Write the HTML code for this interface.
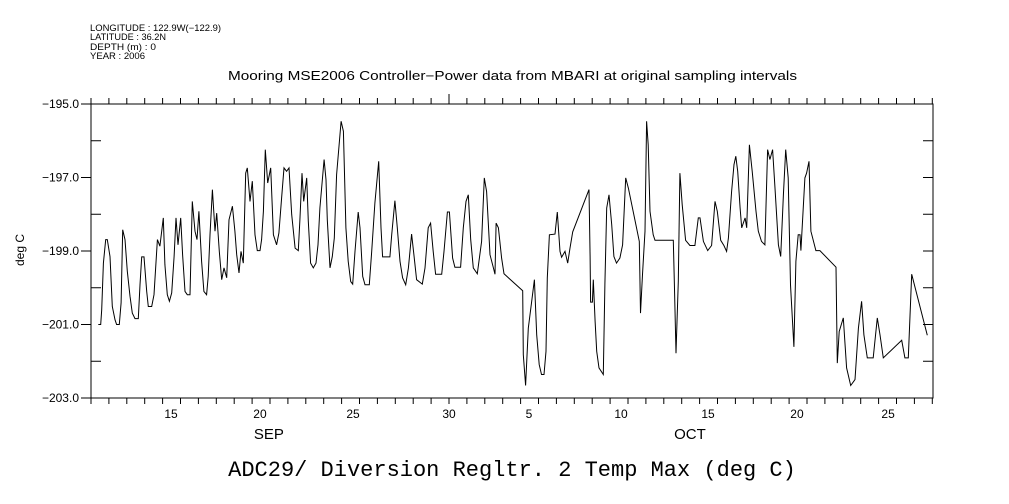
<!DOCTYPE html>
<html><head><meta charset="utf-8">
<style>
body{margin:0;background:#fff;}
svg{display:block;font-family:"Liberation Sans",sans-serif;}
</style></head>
<body>
<svg id="chart" width="1009" height="504" viewBox="0 0 1009 504" xmlns="http://www.w3.org/2000/svg">
<rect width="1009" height="504" fill="#fff"/>
<g font-size="9" fill="#000">
<text x="90" y="31" textLength="131" lengthAdjust="spacingAndGlyphs">LONGITUDE : 122.9W(−122.9)</text>
<text x="90" y="40" textLength="76" lengthAdjust="spacingAndGlyphs">LATITUDE : 36.2N</text>
<text x="90" y="50" textLength="66" lengthAdjust="spacingAndGlyphs">DEPTH (m) : 0</text>
<text x="90" y="59" textLength="55" lengthAdjust="spacingAndGlyphs">YEAR : 2006</text>
</g>
<text x="228" y="80" textLength="569" lengthAdjust="spacingAndGlyphs" font-size="12.5">Mooring MSE2006 Controller−Power data from MBARI at original sampling intervals</text>
<text transform="translate(24,250) rotate(-90)" text-anchor="middle" font-size="12">deg C</text>
<text x="512" y="476" text-anchor="middle" font-size="22" font-family="Liberation Mono, monospace">ADC29/ Diversion Regltr. 2 Temp Max (deg C)</text>
<g id="axes"></g>
<g id="plot"></g>
</svg>
<script>
const days=[0.41,0.54,0.60,0.69,0.82,0.91,1.06,1.19,1.34,1.43,1.58,1.68,1.77,1.90,2.03,2.18,2.31,2.46,2.64,2.74,2.83,2.96,3.11,3.20,3.39,3.52,3.71,3.85,4.04,4.13,4.26,4.38,4.51,4.64,4.75,4.86,5.01,5.12,5.25,5.38,5.53,5.66,5.81,5.92,6.03,6.18,6.31,6.46,6.55,6.65,6.78,6.93,7.02,7.17,7.30,7.43,7.58,7.71,7.90,8.04,8.14,8.27,8.38,8.51,8.64,8.73,8.88,9.01,9.16,9.29,9.44,9.53,9.63,9.74,9.87,10.04,10.19,10.37,10.50,10.65,10.78,10.93,11.06,11.21,11.40,11.58,11.67,11.79,11.88,12.05,12.14,12.27,12.42,12.57,12.68,12.79,13.02,13.13,13.20,13.35,13.48,13.59,13.72,13.97,14.10,14.24,14.37,14.51,14.62,14.75,14.93,15.03,15.18,15.31,15.55,15.68,15.86,16.07,16.20,16.29,16.70,16.80,16.98,17.11,17.26,17.41,17.58,17.73,17.91,18.04,18.19,18.51,18.66,18.84,18.97,19.12,19.25,19.59,19.72,19.91,20.02,20.20,20.33,20.61,
20.65,20.80,20.95,21.08,21.21,21.36,21.58,21.82,21.97,22.10,22.29,22.48,22.57,22.63,22.76,22.94,23.07,24.12,24.15,24.28,24.43,24.62,24.77,24.90,25.04,25.17,25.31,25.42,25.49,25.61,25.92,26.05,26.20,26.29,26.48,26.63,26.76,26.91,27.82,27.88,27.91,28.01,28.06,28.16,28.25,28.38,28.62,28.71,28.81,28.94,29.09,29.21,29.36,29.55,29.70,29.87,30.02,30.63,30.70,30.81,30.95,31.04,31.13,31.23,31.41,31.51,32.53,32.59,32.68,32.81,32.90,33.03,33.22,33.46,33.74,33.93,34.02,34.21,34.45,34.67,34.86,34.99,35.18,35.36,35.51,35.61,35.79,35.92,36.02,36.13,36.26,36.35,36.54,36.63,36.78,36.94,37.15,37.28,37.46,37.65,37.80,37.93,38.08,38.21,38.40,38.53,38.68,38.81,38.95,39.08,39.27,39.38,39.51,39.61,39.66,39.88,39.98,40.11,40.22,40.50,40.72,41.62,41.69,41.80,42.03,42.21,42.44,42.68,42.87,43.05,43.18,43.37,43.70,43.93,44.08,44.26,45.29,45.47,45.66,45.85,46.72];
const temps=[-201.0,-201.0,-200.6,-199.33,-198.69,-198.69,-199.15,-200.51,-200.87,-201.0,-201.0,-200.41,-198.42,-198.69,-199.55,-200.23,-200.69,-200.84,-200.84,-199.92,-199.16,-199.16,-200.10,-200.51,-200.51,-200.19,-198.69,-198.87,-198.10,-199.37,-200.19,-200.37,-200.14,-199.15,-198.10,-198.83,-198.10,-199.10,-200.10,-200.19,-200.19,-197.65,-198.46,-198.69,-197.92,-199.28,-200.10,-200.19,-199.69,-198.56,-197.33,-198.46,-197.97,-199.01,-199.78,-199.46,-199.73,-198.15,-197.78,-198.46,-199.10,-199.60,-199.01,-199.33,-196.88,-196.74,-197.65,-197.10,-198.56,-198.99,-198.99,-198.69,-197.92,-196.24,-197.15,-196.74,-198.56,-198.83,-198.51,-197.56,-196.74,-196.83,-196.74,-198.01,-198.92,-198.99,-198.15,-196.88,-197.65,-197.01,-198.19,-199.33,-199.46,-199.33,-198.83,-197.83,-196.51,-197.06,-198.15,-199.46,-199.15,-198.65,-196.92,-195.47,-195.74,-198.37,-199.28,-199.83,-199.90,-199.01,-197.94,-198.37,-199.69,-199.92,-199.92,-199.01,-197.69,-196.56,-198.37,-199.16,-199.16,-198.56,-197.63,-198.37,-199.28,-199.73,-199.92,-199.46,-198.54,-199.10,-199.78,-199.90,-199.46,-198.37,-198.24,-199.01,-199.63,-199.63,-199.01,-197.94,-197.94,-199.19,-199.44,-199.44,
-199.44,-198.37,-197.65,-197.47,-198.69,-199.46,-199.62,-198.74,-197.01,-197.38,-199.10,-199.46,-199.63,-198.24,-198.37,-199.19,-199.62,-200.08,-201.82,-202.66,-201.10,-200.37,-199.78,-201.28,-202.09,-202.36,-202.36,-201.73,-199.73,-198.56,-198.54,-197.94,-199.01,-199.17,-199.01,-199.33,-198.92,-198.48,-197.33,-199.15,-200.39,-200.39,-199.78,-200.91,-201.73,-202.18,-202.36,-199.90,-197.83,-197.47,-198.28,-199.15,-199.33,-199.19,-198.83,-197.01,-197.29,-198.74,-200.69,-199.64,-198.46,-195.47,-196.11,-197.92,-198.56,-198.71,-198.71,-199.92,-201.78,-199.83,-196.88,-197.74,-198.71,-198.85,-198.85,-198.10,-198.10,-198.74,-198.99,-198.85,-197.65,-197.92,-198.71,-198.85,-199.01,-198.65,-197.38,-196.65,-196.42,-196.83,-197.83,-198.37,-198.10,-198.37,-196.11,-196.83,-197.92,-198.46,-198.74,-198.83,-196.24,-196.51,-196.24,-197.29,-198.83,-199.15,-197.47,-196.24,-197.01,-199.92,-201.61,-199.28,-198.56,-198.56,-198.99,-197.01,-196.88,-196.56,-198.46,-198.99,-198.99,-199.44,-202.05,-201.19,-200.82,-202.18,-202.66,-202.50,-201.10,-200.37,-201.28,-201.91,-201.91,-200.82,-201.28,-201.91,-201.43,-201.91,-201.91,-199.63,-201.29];
const yTickValues=[-195,-197,-199,-201,-203];
const yTickLabels=["−195.0","−197.0","−199.0","−201.0","−203.0"];
const xTickLabels=["15","20","25","30","5","10","15","20","25"];
const xTickLabelDays=[4.47,9.44,14.64,20.0,24.47,29.61,34.47,39.44,44.53];
const monthLabels=["SEP","OCT"];
const monthLabelDays=[9.94,33.46];

const X0=91,X1=933,Y0=104,Y1=398,DAYPX=17.9;
const xs=d=>X0+d*DAYPX;
const ys=v=>Y0+(-195-v)*(Y1-Y0)/8;
const NS="http://www.w3.org/2000/svg";
const axes=document.getElementById('axes');
const plot=document.getElementById('plot');
function mk(tag,attrs,parent){const e=document.createElementNS(NS,tag);for(const k in attrs)e.setAttribute(k,attrs[k]);parent.appendChild(e);return e;}

const frame=mk('rect',{x:X0,y:Y0,width:X1-X0,height:Y1-Y0,fill:'none',stroke:'#000','stroke-width':1},axes);



for(let k=0;X0+k*DAYPX<=X1+0.5;k++){
  const x=X0+k*DAYPX;
  const t=mk('line',{x1:x,x2:x,y1:Y1,y2:Y1+6,stroke:'#000'},axes);
  
  
  const len=(k===20)?10:6;
  const t2=mk('line',{x1:x,x2:x,y1:Y0,y2:Y0-len,stroke:'#000'},axes);
  
  
}
for(let v=-195;v>=-203;v--){
  const y=ys(v);
  const lt=mk('line',{x1:X0-(v%2!==0?10:0),x2:X0+(v%2!==0?0:10),y1:y,y2:y,stroke:'#000'},axes);
  
  
  const rt=mk('line',{x1:X1-10,x2:X1,y1:y,y2:y,stroke:'#000'},axes);
  
  
}
yTickValues.forEach((v,i)=>{
  const t=mk('text',{x:X0-12,y:ys(v)+4,'text-anchor':'end','font-size':12},axes);
  t.textContent=yTickLabels[i];
  
  
});
xTickLabels.forEach((s,i)=>{
  const t=mk('text',{x:xs(xTickLabelDays[i]),y:418,'text-anchor':'middle','font-size':12},axes);
  t.textContent=s;
  
  
});
monthLabels.forEach((s,i)=>{
  const t=mk('text',{x:xs(monthLabelDays[i]),y:439,'text-anchor':'middle','font-size':15},axes);
  t.textContent=s;
  
  
});
let d='';
days.forEach((t,i)=>{d+=(i?'L':'M')+xs(t).toFixed(1)+','+ys(temps[i]).toFixed(1);});
const line=mk('path',{d:d,fill:'none',stroke:'#000','stroke-width':1},plot);


</script>
</body></html>
